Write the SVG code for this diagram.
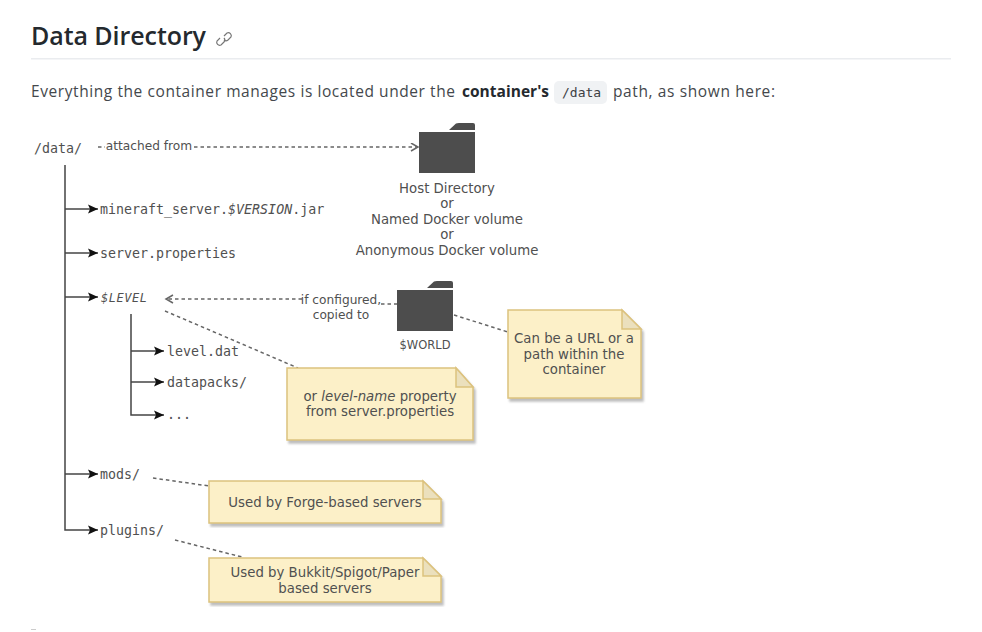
<svg xmlns="http://www.w3.org/2000/svg" width="982" height="632" viewBox="0 0 982 632">
<style>
.ui{font-family:"Open Sans","Noto Sans","Liberation Sans",sans-serif;fill:#44484c;font-size:15.5px}
.mono{font-family:"DejaVu Sans Mono","Liberation Mono",monospace;font-size:13.3px;fill:#505050}
.lab{font-family:"DejaVu Sans","Liberation Sans",sans-serif;font-size:13.3px;fill:#505050;text-anchor:middle}
.small{font-size:12.2px}
.tree{fill:none;stroke:#444;stroke-width:1.5}
.dash{fill:none;stroke:#666;stroke-width:1.5;stroke-dasharray:3.5 3}
.note{fill:#fcf0c8;stroke:#dcc27e;stroke-width:1.5;filter:url(#sh)}
.fold{fill:#ebe0bd;stroke:#dcc27e;stroke-width:1.5}
.folder{fill:#4d4d4d}
</style>
<defs>
<marker id="solid" markerWidth="12" markerHeight="10" refX="10" refY="5" orient="auto" markerUnits="userSpaceOnUse"><path d="M0 .5L10 5L0 9.5L2 5Z" fill="#111"/></marker>
<marker id="open" markerWidth="10" markerHeight="10" refX="8" refY="4.5" orient="auto" markerUnits="userSpaceOnUse"><path d="M1 .5L8 4.5L1 8.5" fill="none" stroke="#666" stroke-width="1.5"/></marker>
<filter id="sh" x="-5%" y="-5%" width="115%" height="115%"><feDropShadow dx="2" dy="3" stdDeviation="1" flood-color="#888" flood-opacity=".55"/></filter>
</defs>
<rect width="982" height="632" fill="#fff"/>
<g id="header">
<text x="31" y="45" font-family="'Open Sans','Noto Sans',sans-serif" font-size="25" font-weight="600" fill="#24292e" textLength="175">Data Directory</text>
<g fill="none" stroke="#777" stroke-width="1.2"><path d="M220 38l-3 3a3 3 0 0 0 4 4l3-3a3 3 0 0 0 0-4"/><path d="M224 36l3-3a3 3 0 0 1 4 4l-3 3a3 3 0 0 1-4 0"/></g>
<rect x="31" y="58" width="920" height="1.5" fill="#eaecef"/>
<text class="ui" x="31" y="97" textLength="424">Everything the container manages is located under the</text>
<text class="ui" x="462" y="97" font-weight="700" style="fill:#24292e" textLength="87">container's</text>
<rect x="554" y="81" width="53" height="23" rx="5" fill="#f0f2f4"/>
<text x="562" y="97" font-family="'DejaVu Sans Mono',monospace" font-size="13" fill="#3c4043">/data</text>
<text class="ui" x="613" y="97" textLength="162">path, as shown here:</text>
<rect x="31" y="629" width="5" height="1" fill="#ccc"/>
</g>
<g id="connectors">
<path class="tree" d="M65 165V530H98" marker-end="url(#solid)"/>
<path class="tree" d="M65 209H98" marker-end="url(#solid)"/>
<path class="tree" d="M65 253H98" marker-end="url(#solid)"/>
<path class="tree" d="M65 297H98" marker-end="url(#solid)"/>
<path class="tree" d="M65 474H98" marker-end="url(#solid)"/>
<path class="tree" d="M131 314V415H164" marker-end="url(#solid)"/>
<path class="tree" d="M131 351H164" marker-end="url(#solid)"/>
<path class="tree" d="M131 382H164" marker-end="url(#solid)"/>
<path class="dash" d="M98 147H105"/>
<path class="dash" d="M194 147H418" marker-end="url(#open)"/>
<path class="dash" d="M302 299H166" marker-end="url(#open)"/>
<path class="dash" d="M381 304H397"/>
<path class="dash" d="M165 311L298 368"/>
<path class="dash" d="M454 315L508 332"/>
<path class="dash" d="M153 478L209 486"/>
<path class="dash" d="M175 540L242 557"/>
</g>
<g id="node-data"><text class="mono" x="34" y="153">/data/</text></g>
<g id="label-attached"><text class="lab small" x="149" y="150">attached from</text></g>
<g id="node-host">
<path class="folder" d="M419 132H475V173H419Z"/><path class="folder" d="M449 130L456 123.500Q457 123 459 123H473Q475 123 475 125V130Z"/>
<text class="lab" x="447" y="193">Host Directory</text>
<text class="lab" x="447" y="208">or</text>
<text class="lab" x="447" y="224">Named Docker volume</text>
<text class="lab" x="447" y="239">or</text>
<text class="lab" x="447" y="255">Anonymous Docker volume</text>
</g>
<g id="node-jar"><text class="mono" x="100" y="214">mineraft_server.<tspan font-style="italic">$VERSION</tspan>.jar</text></g>
<g id="node-properties"><text class="mono" x="100" y="258">server.properties</text></g>
<g id="node-level"><text class="mono" x="101" y="302" font-style="italic" style="font-size:12px" textLength="46">$LEVEL</text></g>
<g id="label-copied"><text class="lab small" x="341" y="304">if configured,</text><text class="lab small" x="341" y="319">copied to</text></g>
<g id="node-world">
<path class="folder" d="M397 290H453V331H397Z"/><path class="folder" d="M427 288L434 281.500Q435 281 437 281H451Q453 281 453 283V288Z"/>
<text class="lab" x="425" y="349" style="font-size:11.5px">$WORLD</text>
</g>
<g id="node-leveldat"><text class="mono" x="167" y="356">level.dat</text></g>
<g id="node-datapacks"><text class="mono" x="167" y="387">datapacks/</text></g>
<g id="node-more"><text class="mono" x="167" y="419">...</text></g>
<g id="note-level">
<path class="note" d="M287 368H456L473 387V440H287Z"/><path class="fold" d="M456 368V387H473Z"/>
<text class="lab" x="380" y="401">or <tspan font-style="italic">level-name</tspan> property</text>
<text class="lab" x="380" y="416">from server.properties</text>
</g>
<g id="note-world">
<path class="note" d="M508 310H622L641 329V398H508Z"/><path class="fold" d="M622 310V329H641Z"/>
<text class="lab" x="574" y="343">Can be a URL or a</text>
<text class="lab" x="574" y="359">path within the</text>
<text class="lab" x="574" y="374">container</text>
</g>
<g id="node-mods"><text class="mono" x="100" y="479">mods/</text></g>
<g id="note-mods">
<path class="note" d="M209 481H423L441 499V523H209Z"/><path class="fold" d="M423 481V499H441Z"/>
<text class="lab" x="325" y="507">Used by Forge-based servers</text>
</g>
<g id="node-plugins"><text class="mono" x="100" y="535">plugins/</text></g>
<g id="note-plugins">
<path class="note" d="M209 558H423L441 576V602H209Z"/><path class="fold" d="M423 558V576H441Z"/>
<text class="lab" x="325" y="577">Used by Bukkit/Spigot/Paper</text>
<text class="lab" x="325" y="593">based servers</text>
</g>
</svg>
